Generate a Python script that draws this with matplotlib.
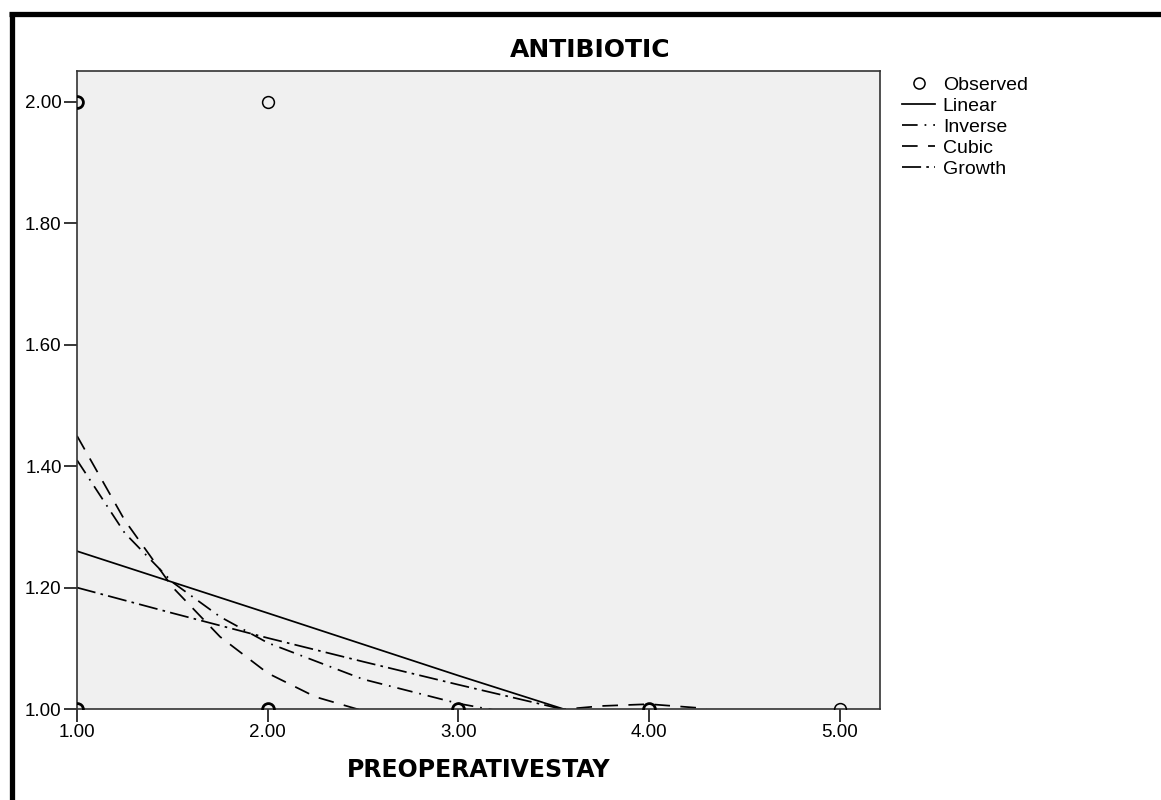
import matplotlib
matplotlib.use('Agg')
import matplotlib.pyplot as plt
from matplotlib.lines import Line2D

# observed cases (x, y, how many overlap)
obs_x = [1, 2, 1, 2, 3, 4, 5]
obs_y = [2, 2, 1, 1, 1, 1, 1]
obs_n = [3, 1, 9, 8, 6, 4, 1]

# fitted curves
lin_x = [1.0, 2.0, 3.0, 4.0, 5.0]
lin_y = [1.260, 1.158, 1.055, 0.955, 0.853]

inv_x = [1.0, 1.25, 1.5, 1.75, 2.0, 2.5, 3.0, 3.5, 4.0, 4.5, 5.0]
inv_y = [1.410, 1.290, 1.209, 1.152, 1.109, 1.049, 1.009, 0.980, 0.958, 0.942, 0.928]

cub_x = [1.0, 1.25, 1.5, 1.75, 2.0, 2.25, 2.5, 2.75, 3.0, 3.25, 3.5, 3.75, 4.0, 4.25, 4.5, 5.0]
cub_y = [1.450, 1.311, 1.201, 1.119, 1.059, 1.020, 0.997, 0.986, 0.986, 0.991, 0.998, 1.005, 1.008, 1.002, 0.986, 0.905]

gro_x = [1.0, 1.5, 2.0, 2.5, 3.0, 3.5, 4.0, 4.5, 5.0]
gro_y = [1.200, 1.158, 1.117, 1.078, 1.040, 1.003, 0.968, 0.934, 0.901]

xticks = [1, 2, 3, 4, 5]
yticks = [1.0, 1.2, 1.4, 1.6, 1.8, 2.0]

plt.rcParams['font.family'] = ['Liberation Sans', 'DejaVu Sans']

fig = plt.figure(figsize=(11.61, 8.0), dpi=100)
ax = fig.add_axes([77/1161, 1-709/800, (880-77)/1161, (709-71)/800])
ax.set_facecolor('#f0f0f0')

ax.plot(lin_x, lin_y, color='black', lw=1.25, linestyle='solid', label='Linear')
ax.plot(inv_x, inv_y, color='black', lw=1.25, linestyle=(0, (9, 4, 1, 4)), label='Inverse')
ax.plot(cub_x, cub_y, color='black', lw=1.25, linestyle=(0, (9, 6)), label='Cubic')
ax.plot(gro_x, gro_y, color='black', lw=1.25, linestyle=(0, (11, 3, 1.5, 3)), label='Growth')

for i in range(len(obs_x)):
    mew = 1.1 if obs_n[i] == 1 else 2.0
    ax.plot(obs_x[i], obs_y[i], linestyle='none', marker='o', markersize=8.5,
            markerfacecolor='none', markeredgecolor='black', markeredgewidth=mew, zorder=5)

ax.set_xlim(1.0, 5.21)
ax.set_ylim(1.0, 2.051)
ax.set_xticks(xticks)
ax.set_xticklabels(['%.2f' % v for v in xticks])
ax.set_yticks(yticks)
ax.set_yticklabels(['%.2f' % v for v in yticks])
ax.tick_params(axis='both', direction='out', length=9.5, width=1.1, labelsize=13.5, pad=1.5, color='black')

for s in ax.spines.values():
    s.set_color('#333333')
    s.set_linewidth(1.2)

ax.set_xlabel('PREOPERATIVESTAY', fontsize=17, fontweight='bold', family='DejaVu Sans', labelpad=12)
fig.text(590/1161, 1-50/800, 'ANTIBIOTIC', fontsize=18, fontweight='bold', family='DejaVu Sans',
         ha='center', va='center')

handles = [Line2D([], [], linestyle='none', marker='o', markersize=8, markerfacecolor='none',
                  markeredgecolor='black', markeredgewidth=1.1)]
handles += ax.get_lines()[:4]
labels = ['Observed', 'Linear', 'Inverse', 'Cubic', 'Growth']
fig.legend(handles, labels, loc='upper left', bbox_to_anchor=(902/1161, 1-76/800),
           frameon=False, fontsize=14, handlelength=1.7, handletextpad=0.4,
           labelspacing=0.18, borderpad=0, borderaxespad=0)

# outer frame
fig.add_artist(Line2D([11.5/1161, 11.5/1161], [0, 1-12/800], color='black', lw=3.8,
                      transform=fig.transFigure, solid_capstyle='butt'))
fig.add_artist(Line2D([9/1161, 1], [1-14/800, 1-14/800], color='black', lw=3.8,
                      transform=fig.transFigure, solid_capstyle='butt'))

fig.savefig('out.png', dpi=100)
